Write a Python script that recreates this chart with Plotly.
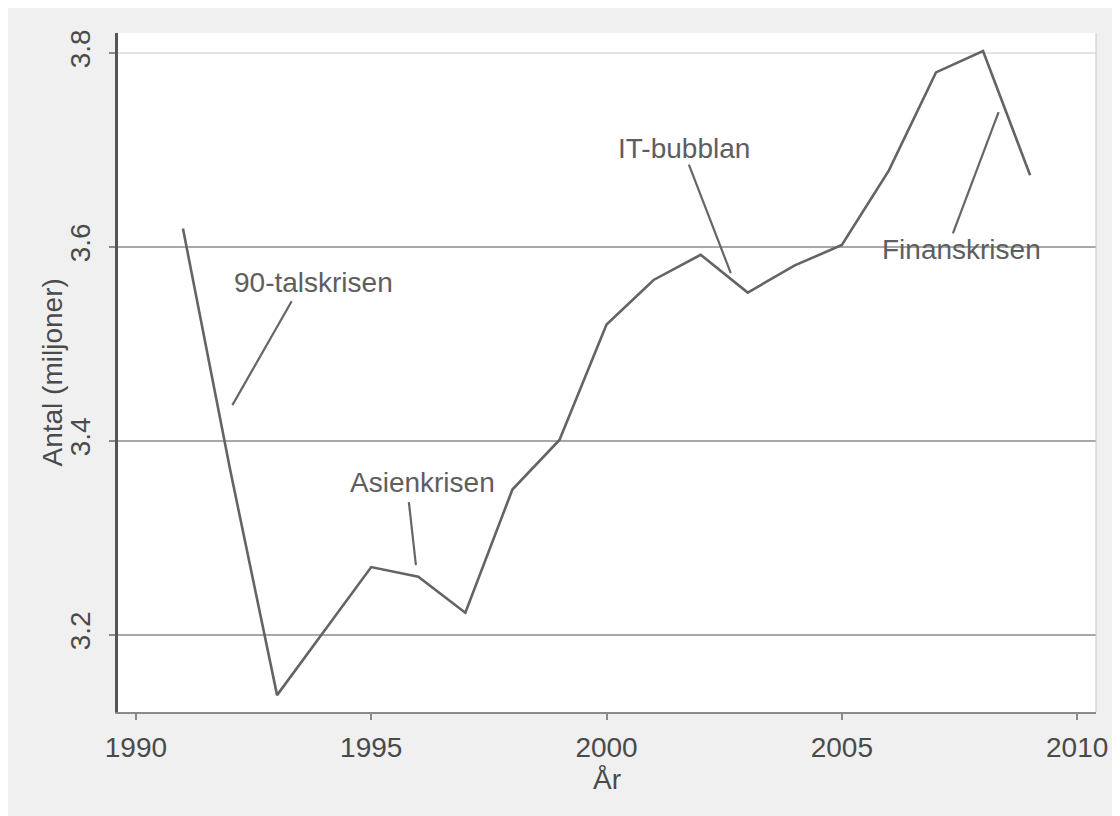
import plotly.graph_objects as go

# ---- data ----
years = [1991, 1992, 1993, 1994, 1995, 1996, 1997, 1998, 1999, 2000,
         2001, 2002, 2003, 2004, 2005, 2006, 2007, 2008, 2009]
antal = [3.619, 3.371, 3.138, 3.204, 3.270, 3.260, 3.223, 3.350, 3.401, 3.520,
         3.566, 3.592, 3.553, 3.581, 3.602, 3.679, 3.780, 3.802, 3.674]

x_ticks = [1990, 1995, 2000, 2005, 2010]
y_ticks = [3.2, 3.4, 3.6, 3.8]

crisis_labels = ["90-talskrisen", "Asienkrisen", "IT-bubblan", "Finanskrisen"]
label_x = [1993.78, 1996.10, 2001.65, 2007.55]
label_y = [3.563, 3.357, 3.702, 3.597]
pointer_x0 = [1993.31, 1995.80, 2001.75, 2007.36]
pointer_y0 = [3.544, 3.337, 3.685, 3.614]
pointer_x1 = [1992.05, 1995.95, 2002.64, 2008.33]
pointer_y1 = [3.437, 3.272, 3.573, 3.739]

x_title = "År"
y_title = "Antal (miljoner)"

FONT = "Liberation Sans, Arial, sans-serif"
TXT = "#4a4a4a"

fig = go.Figure()
fig.add_trace(go.Scatter(x=years, y=antal, mode="lines",
                         line=dict(color="#646464", width=2.6),
                         showlegend=False, hoverinfo="x+y"))

shapes = []
# gridlines
for t in y_ticks:
    shapes.append(dict(type="line", xref="paper", x0=0, x1=1, yref="y", y0=t, y1=t,
                       line=dict(color="#e4e4e4" if t == max(y_ticks) else "#a8a8a8", width=2),
                       layer="below"))
# pointer lines
for a, b, c, d in zip(pointer_x0, pointer_y0, pointer_x1, pointer_y1):
    shapes.append(dict(type="line", xref="x", yref="y", x0=a, y0=b, x1=c, y1=d,
                       line=dict(color="#666666", width=2.2)))
# right plot border
shapes.append(dict(type="line", xref="paper", yref="paper", x0=1, x1=1, y0=0, y1=1,
                   line=dict(color="#c8c8c8", width=1)))

annotations = []
for txt, lx, ly in zip(crisis_labels, label_x, label_y):
    annotations.append(dict(x=lx, y=ly, xref="x", yref="y", text=txt, showarrow=False,
                            font=dict(family=FONT, size=28, color="#5e5e5e")))
# axis titles
annotations.append(dict(x=0, y=0.5, xref="paper", yref="paper", text=y_title,
                        showarrow=False, textangle=-90, xanchor="center", yanchor="middle",
                        xshift=-66, font=dict(family=FONT, size=28, color=TXT)))
annotations.append(dict(x=0.5, y=0, xref="paper", yref="paper", text=x_title,
                        showarrow=False, xanchor="center", yanchor="middle",
                        yshift=-67, font=dict(family=FONT, size=28, color=TXT)))

fig.update_layout(
    width=1112, height=808,
    margin=dict(l=110, r=17, t=25, b=104),
    paper_bgcolor="#f0f0f0",
    plot_bgcolor="white",
    font=dict(family=FONT, size=28, color=TXT),
    shapes=shapes,
    annotations=annotations,
    xaxis=dict(range=[1989.62, 2010.40], tickvals=x_ticks, showgrid=False, zeroline=False,
               showline=True, linecolor="#8a8a8a", linewidth=2,
               ticks="outside", ticklen=6, tickcolor="#8a8a8a", tickwidth=1.5,
               ticklabelstandoff=3,
               tickfont=dict(family=FONT, size=28, color=TXT)),
    yaxis=dict(range=[3.1206, 3.8206], tickvals=y_ticks, tickformat=".1f", showgrid=False,
               zeroline=False, showline=True, linecolor="#555555", linewidth=2.5,
               ticks="outside", ticklen=6, tickcolor="#8a8a8a", tickwidth=1.5,
               tickangle=-90, ticklabelstandoff=8,
               tickfont=dict(family=FONT, size=28, color=TXT)),
)

fig.write_html("out.html")
